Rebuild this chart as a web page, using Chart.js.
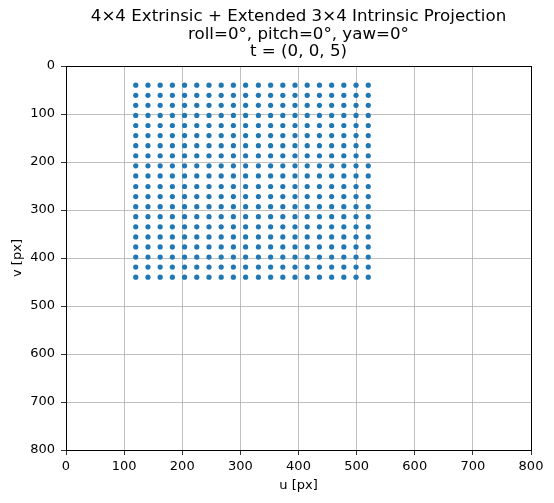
<!DOCTYPE html>
<html>
<head>
<meta charset="utf-8">
<script src="https://cdn.jsdelivr.net/npm/chart.js@4"></script>
<style>
  html, body { margin: 0; padding: 0; background: #fff; }
  #wrap { width: 554px; height: 503px; }
</style>
</head>
<body>
<div id="wrap"><canvas id="proj"></canvas></div>
<script>
// Projected grid: column u positions and row v positions
const U_COLS = [120, 141, 162, 183, 204, 225, 246, 267, 288, 309,
                331, 352, 373, 394, 415, 436, 457, 478, 499, 520];
const V_ROWS = [40, 61, 82, 103, 124, 145, 166, 187, 208, 229,
                251, 272, 293, 314, 335, 356, 377, 398, 419, 440];

const TITLE_LINES = [
  '4×4 Extrinsic + Extended 3×4 Intrinsic Projection',
  'roll=0°, pitch=0°, yaw=0°',
  't = (0, 0, 5)'
];
const AXIS_MIN = 0;
const AXIS_MAX = 800;
const AXIS_STEP = 100;

const FONT = "'DejaVu Sans', sans-serif";

// every (u, v) pair of the grid
const points = [];
V_ROWS.forEach(v => U_COLS.forEach(u => points.push({ x: u, y: v })));

// black frame on all four sides + title centred over the axes (matplotlib style)
const frame = {
  id: 'frame',
  afterDatasetsDraw(chart) {
    const { ctx, chartArea: a } = chart;
    ctx.save();
    ctx.strokeStyle = '#000';
    ctx.lineWidth = 1;
    ctx.strokeRect(a.left + 0.5, a.top + 0.5, a.right - a.left, a.bottom - a.top);

    ctx.fillStyle = '#000';
    ctx.font = `16.67px ${FONT}`;
    ctx.textAlign = 'center';
    ctx.textBaseline = 'alphabetic';
    const cx = (a.left + a.right) / 2;
    const n = TITLE_LINES.length;
    TITLE_LINES.forEach((line, i) => {
      ctx.fillText(line, cx, a.top - 10 - (n - 1 - i) * 17.5);
    });
    ctx.restore();
  }
};

Chart.defaults.font.family = FONT;
Chart.defaults.color = '#000';

new Chart(document.getElementById('proj'), {
  type: 'scatter',
  data: {
    datasets: [{
      data: points,
      backgroundColor: '#1f77b4',
      borderWidth: 0,
      pointRadius: 2.6,
      pointHoverRadius: 2.6
    }]
  },
  options: {
    responsive: true,
    maintainAspectRatio: false,
    animation: false,
    layout: { padding: { left: 0, right: 23, top: 66, bottom: 0 } },
    plugins: {
      legend: { display: false },
      tooltip: { enabled: false },
      title: { display: false }
    },
    scales: {
      x: {
        type: 'linear',
        min: AXIS_MIN,
        max: AXIS_MAX,
        afterFit: s => { s.height = 53; },
        ticks: { stepSize: AXIS_STEP, font: { size: 13 }, color: '#000', padding: 4, maxRotation: 0 },
        grid: { color: '#b0b0b0', lineWidth: 0.8, tickColor: '#000', tickLength: 5 },
        border: { color: '#000' },
        title: { display: true, text: 'u [px]', font: { size: 13 }, padding: { top: 1, bottom: 10 } }
      },
      y: {
        type: 'linear',
        reverse: true,
        min: AXIS_MIN,
        max: AXIS_MAX,
        afterFit: s => { s.width = 66; },
        ticks: { stepSize: AXIS_STEP, font: { size: 13 }, color: '#000', padding: 6 },
        grid: { color: '#b0b0b0', lineWidth: 0.8, tickColor: '#000', tickLength: 5 },
        border: { color: '#000' },
        title: { display: true, text: 'v [px]', font: { size: 13 }, padding: { top: 10, bottom: 4 } }
      }
    }
  },
  plugins: [frame]
});
</script>
</body>
</html>
